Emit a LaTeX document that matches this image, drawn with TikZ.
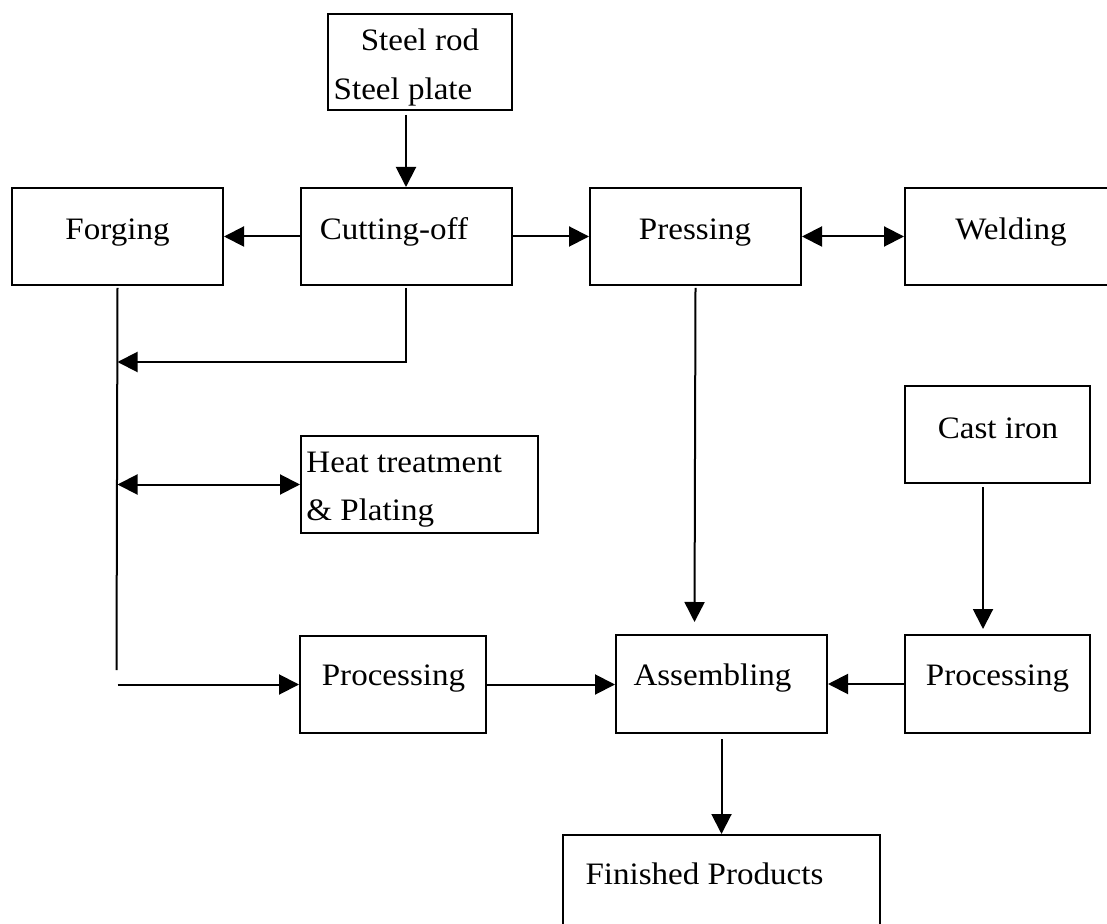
\documentclass[tikz,border=0pt]{standalone}
\usepackage{fontspec}
\setmainfont{Liberation Serif}[FakeStretch=1.06]
\usetikzlibrary{arrows.meta}

\begin{document}
\begin{tikzpicture}[x=0.5pt,y=-0.5pt,
  box/.style={draw,line width=1pt,inner sep=0pt,anchor=north west},
  lbl/.style={anchor=base,inner sep=0pt,font=\fontsize{15.6}{18}\selectfont},
  conn/.style={line width=1pt},
  tip/.tip={Triangle[length=10pt,width=10pt]},
  arr/.style={conn,-tip},
  dbl/.style={conn,tip-tip}]

\useasboundingbox (0,0) rectangle (1107,924);
\clip (0,0) rectangle (1107,924);

% process boxes
\node[box,minimum width=92pt,minimum height=48pt]      (steel)    at (327,13)  {};
\node[box,minimum width=105.5pt,minimum height=48.5pt] (forging)  at (11,187)  {};
\node[box,minimum width=105.5pt,minimum height=48.5pt] (cutting)  at (300,187) {};
\node[box,minimum width=105.5pt,minimum height=48.5pt] (pressing) at (589,187) {};
\node[box,minimum width=115pt,minimum height=48.5pt]   (welding)  at (904,187) {};
\node[box,minimum width=118.5pt,minimum height=48.5pt] (heat)     at (300,435) {};
\node[box,minimum width=92.5pt,minimum height=48.5pt]  (castiron) at (904,385) {};
\node[box,minimum width=93pt,minimum height=48.5pt]    (procL)    at (299,635) {};
\node[box,minimum width=105.5pt,minimum height=49pt]   (assem)    at (615,634) {};
\node[box,minimum width=92.5pt,minimum height=49pt]    (procR)    at (904,634) {};
\node[box,minimum width=158.5pt,minimum height=55pt]   (finished) at (562,834) {};

% box texts
\node[lbl] (steel-t1)    at (420,51)    {Steel rod};
\node[lbl] (steel-t2)    at (403,100)   {Steel plate};
\node[lbl] (forging-t)   at (117.5,240) {Forging};
\node[lbl] (cutting-t)   at (394,240)   {Cutting-off};
\node[lbl] (pressing-t)  at (695,240)   {Pressing};
\node[lbl] (welding-t)   at (1011,240)  {Welding};
\node[lbl] (castiron-t)  at (998,438)   {Cast iron};
\node[lbl,anchor=base west] (heat-t1) at (306,473) {Heat treatment};
\node[lbl,anchor=base west] (heat-t2) at (306,520) {\& Plating};
\node[lbl] (procL-t)     at (393.5,685) {Processing};
\node[lbl] (assem-t)     at (712.5,685) {Assembling};
\node[lbl] (procR-t)     at (997.5,685) {Processing};
\node[lbl] (finished-t)  at (704.5,884) {Finished Products};

% helper points for the connectors
\coordinate (cutCol)   at (406,0);
\coordinate (cutTurn)  at (406,362);
\coordinate (pressTip) at (694.5,622);
\coordinate (trunkEnd) at (116.5,670);
\coordinate (castTip)  at (983,629);

% connectors
\draw[arr] ([yshift=-2pt]steel.south -| cutCol) -- (cutting.north -| cutCol);
\draw[arr] (cutting.west) -- (forging.east);
\draw[arr] (cutting.east) -- (pressing.west);
\draw[dbl] (pressing.east) -- (welding.west);
\draw[arr] ([yshift=-1pt]pressing.south) -- (pressTip);
\draw[arr] ([yshift=-1pt]cutting.south -| cutTurn) -- (cutTurn) -- (cutTurn -| forging.south);
\draw[conn] ([yshift=-1pt]forging.south) -- (trunkEnd);
\draw[dbl] (heat.west -| forging.south) -- (heat.west);
\draw[arr] (procL.west -| forging.south) -- (procL.west);
\draw[arr] (procL.east) -- (assem.west |- procL.east);
\draw[arr] (procR.west) -- (assem.east |- procR.west);
\draw[arr] ([yshift=-1.5pt]castiron.south -| castTip) -- (castTip);
\draw[arr] ([yshift=-2.5pt]assem.south) -- (finished.north -| assem.south);

\end{tikzpicture}
\end{document}
